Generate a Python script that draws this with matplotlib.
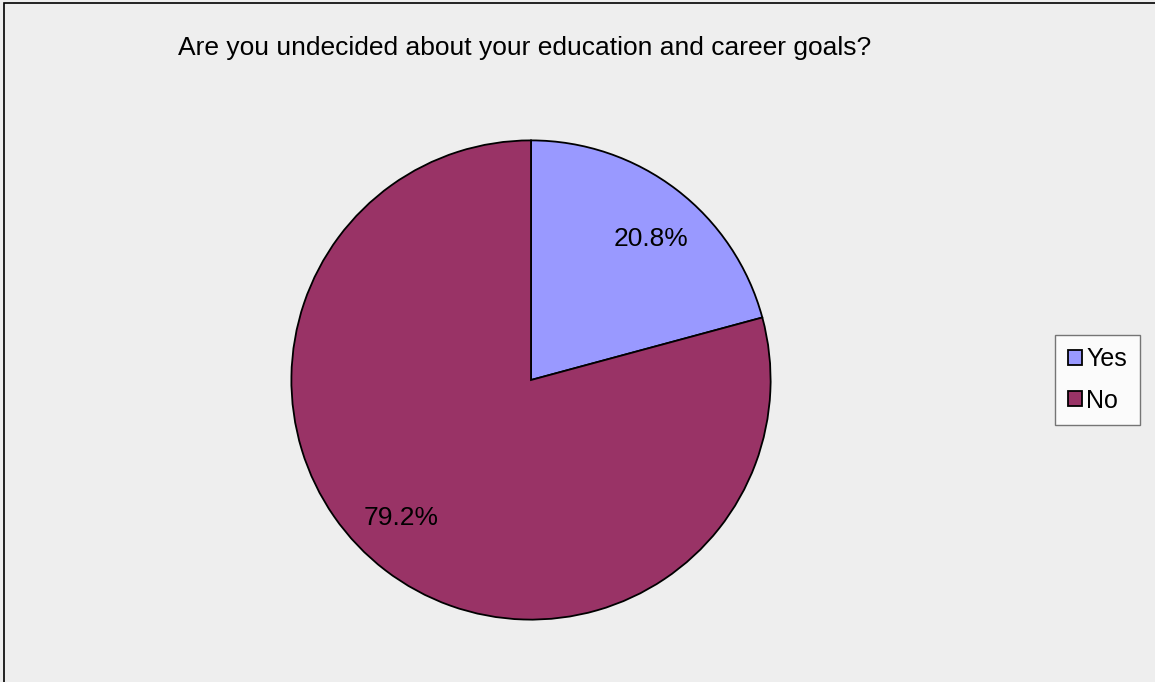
import matplotlib.pyplot as plt
from matplotlib.patches import Rectangle, Patch

# -------------------------
# DATA
# -------------------------
labels = ["Yes", "No"]
shares = [20.8, 79.2]
colors = ["#9999FF", "#993366"]
title = "Are you undecided about your education and career goals?"

plt.rcParams['font.family'] = ['Liberation Sans', 'DejaVu Sans']

W, H = 1155, 682
fig = plt.figure(figsize=(W / 100, H / 100), dpi=100)
fig.patch.set_facecolor("#EEEEEE")

# outer frame (only top and left edges show in the reference)
fig.add_artist(Rectangle((4 / W, -0.1), 1.2, 1 - 3 / H + 0.1, transform=fig.transFigure,
                         fill=False, edgecolor="black", linewidth=1.2))

# pie axes: centre (531, 380), radius ~242 px
cx, cy, r = 531, 380, 242
ax = fig.add_axes([(cx - r) / W, (H - cy - r) / H, 2 * r / W, 2 * r / H])
ax.set_facecolor("none")
wedges, texts, autotexts = ax.pie(
    shares, colors=colors, startangle=90, counterclock=False,
    autopct="%.1f%%", pctdistance=0.78, radius=1,
    wedgeprops=dict(edgecolor="black", linewidth=1.3),
    textprops=dict(fontsize=19, color="black"))
# label placement as in the reference
autotexts[0].set_position((0.50, 0.59))
autotexts[1].set_position((-0.54, -0.575))
ax.set_xlim(-1.01, 1.01)
ax.set_ylim(-1.01, 1.01)
ax.set_aspect("equal")
ax.axis("off")

fig.text(525 / W, 1 - 48 / H, title, ha="center", va="center", fontsize=19)

handles = [Patch(facecolor=c, edgecolor="black", linewidth=1.3) for c in colors]
leg = fig.legend(handles, labels, loc="center", bbox_to_anchor=(1097.5 / W, 1 - 380 / H),
                 frameon=True, fancybox=False, fontsize=18, handlelength=0.55,
                 handleheight=0.55, handletextpad=0.2, labelspacing=0.7,
                 borderpad=0.5, borderaxespad=0)
leg.get_frame().set_edgecolor("#555555")
leg.get_frame().set_linewidth(1.0)
leg.get_frame().set_facecolor("white")

fig.savefig("out.png", dpi=100, facecolor=fig.get_facecolor())
